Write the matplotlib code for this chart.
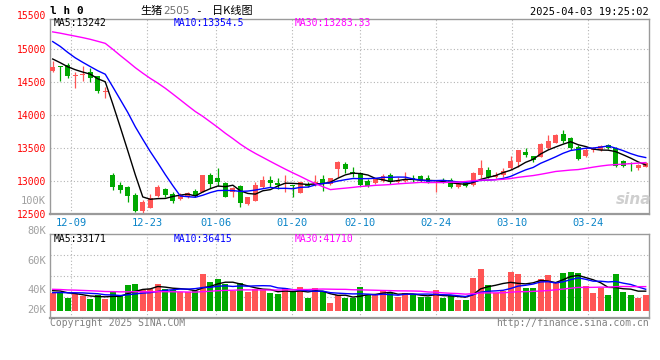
# -*- coding: utf-8 -*-
"""
生猪2505 日K线图 (仿新浪财经样式)
"""
import numpy as np
import pandas as pd
import matplotlib
matplotlib.use('Agg')
import matplotlib.pyplot as plt
import matplotlib.transforms as mtransforms

plt.rcParams['font.family'] = ['DejaVu Sans Mono']

# 图幅之前 29 个交易日 (按均线起点推估, 只用于算均线)
prev_close = [15300, 15280, 15260, 15300, 15320, 15280, 15300, 15600, 15700, 15500,
              15350, 15200, 15100, 15050, 15150, 15300, 15450, 15500, 15400, 15300,
              15450, 15500, 15420, 15300, 15210, 15000, 14900, 14820, 14800]
prev_vol = [42000, 45000, 38000, 40000, 36000, 44000, 41000, 39000, 37000, 43000,
            40000, 38000, 42000, 36000, 41000, 39000, 38000, 40000, 37000, 40000,
            28000, 26000, 30000, 27000, 27500, 33000, 38000, 36000, 34900]

# 12-04 ~ 04-03 日线
opens = [14670, 14740, 14757, 14585, 14610, 14647, 14590, 14350,
         13090, 12940, 12905, 12788, 12550, 12595, 12775, 12880, 12803, 12727, 12753, 12848,
         12838, 13090, 13040, 12965, 12830, 12924, 12647, 12700, 12914, 13015,
         12975, 12950, 12940, 12823, 12955, 12940, 13030, 12950, 13177, 13258,
         13130, 13125, 13000, 12965, 13005, 13090, 12980, 13005, 13040, 13076,
         13040, 12965, 13005, 13015, 12914, 12965, 12940, 13090, 13167, 13055,
         13090, 13200, 13283, 13444, 13379, 13368, 13495, 13580, 13707, 13646,
         13510, 13379, 13470, 13470, 13545, 13495, 13303, 13278, 13192, 13217]
closes = [14720, 14720, 14595, 14595, 14620, 14565, 14370, 14368,
          12915, 12865, 12777, 12550, 12686, 12737, 12914, 12790, 12700, 12790, 12813, 12777,
          13090, 12950, 12990, 12762, 12889, 12662, 12753, 12940, 13015, 12975,
          12940, 12965, 12924, 12980, 12924, 12990, 12975, 13040, 13283, 13177,
          13120, 12940, 12930, 13025, 13076, 12990, 13015, 13025, 13015, 13015,
          12980, 12990, 12965, 12914, 12950, 12930, 13125, 13200, 13065, 13090,
          13155, 13303, 13470, 13394, 13318, 13560, 13606, 13697, 13606, 13505,
          13333, 13470, 13505, 13530, 13495, 13227, 13227, 13253, 13242, 13268]
highs = [14820, 14745, 14788, 14650, 14742, 14707, 14590, 14420,
         13117, 12990, 12925, 12813, 12712, 12798, 12940, 12890, 12830, 12813, 12830, 12874,
         13090, 13117, 13200, 12980, 12904, 12940, 12762, 12980, 13076, 13076,
         13040, 13090, 12945, 12990, 12990, 13090, 13090, 13040, 13303, 13292,
         13208, 13140, 13025, 13040, 13100, 13117, 13055, 13130, 13090, 13090,
         13090, 13015, 13040, 13040, 12965, 12990, 13140, 13318, 13208, 13130,
         13192, 13380, 13470, 13495, 13379, 13580, 13697, 13712, 13773, 13671,
         13545, 13495, 13520, 13545, 13560, 13510, 13318, 13292, 13258, 13292]
lows = [14650, 14520, 14565, 14405, 14520, 14505, 14340, 14260,
        12865, 12815, 12686, 12535, 12505, 12586, 12762, 12753, 12670, 12712, 12738, 12753,
        12830, 12890, 12924, 12753, 12753, 12610, 12636, 12690, 12890, 12904,
        12874, 12838, 12750, 12813, 12915, 12924, 12853, 12940, 13065, 13125,
        13065, 12924, 12915, 12950, 12990, 12950, 12965, 12990, 12980, 12980,
        12965, 12838, 12965, 12890, 12890, 12904, 12930, 13040, 13040, 13040,
        13055, 13177, 13217, 13368, 13293, 13359, 13485, 13570, 13570, 13470,
        13318, 13359, 13444, 13455, 13480, 13208, 13217, 13155, 13167, 13208]
volumes = [30600, 30600, 22700, 29500, 24900, 19800, 26600, 19800, 33400, 24900,
           43600, 45300, 36300, 38000, 45300, 38000, 36300, 32300, 32300, 33400,
           62300, 48700, 53800, 46500, 33400, 47000, 32300, 38000, 35100, 30000,
           28300, 38500, 33400, 40200, 21500, 38500, 33400, 13000, 26600, 22700,
           22700, 40800, 26600, 28300, 33400, 30000, 24400, 30000, 26600, 23800,
           23800, 35100, 21500, 24900, 18100, 18100, 56100, 70800, 43600, 30000,
           33400, 65700, 62300, 39100, 39100, 53800, 60600, 48700, 64000, 65700,
           64000, 41900, 30000, 38500, 26600, 62300, 31700, 26600, 21500, 26600]

date_labels = ['12-09', '12-23', '01-06', '01-20', '02-10', '02-24', '03-10', '03-24']
date_index = [3, 13, 22, 32, 41, 51, 61, 71]

price_ticks = [12500, 13000, 13500, 14000, 14500, 15000]
price_top_label = 15500
vol_labels = ['100K', '80K', '60K', '40K', '20K']

ma_price_text = ['MA5:13242', 'MA10:13354.5', 'MA30:13283.33']
ma_vol_text = ['MA5:33171', 'MA10:36415', 'MA30:41710']

RED = '#ff5555'
GREEN = '#00a800'
MA_COLORS = ['black', '#0000ff', '#ff00ff']
GRID = dict(color='#b4b4b4', linestyle=(0, (1, 2)), linewidth=0.8)
FRAME = '#9a9a9a'
W, H = 660, 360


def fx(p):
    return p / W


def fy(p):
    return 1 - p / H


def ma(prev, vals, n):
    s = pd.Series(list(prev) + list(vals), dtype=float)
    return s.rolling(n).mean().iloc[len(prev):].to_numpy()


o = np.array(opens, float)
c = np.array(closes, float)
hi = np.array(highs, float)
lo = np.array(lows, float)
vol = np.array(volumes, float)
x = np.arange(len(c))
up = c >= o
colors = np.where(up, RED, GREEN)

# 网格线位置: 新浪的日期线比K线间距略宽
grid_pos = [2.5 + (i - 3) * (7.6 / 7.506) for i in date_index]

fig = plt.figure(figsize=(6.6, 3.6), dpi=100)
fig.patch.set_facecolor('white')

ax = fig.add_axes([fx(50), fy(214), fx(599), 195 / H])
axv = fig.add_axes([fx(50), fy(318), fx(599), 84 / H])

for a in (ax, axv):
    a.set_xlim(-0.36, len(c) - 0.56)
    for sp in a.spines.values():
        sp.set_color(FRAME)
        sp.set_linewidth(1.0)
    a.spines['bottom'].set_linewidth(1.6)
    a.set_xticks(grid_pos)
    a.grid(True, **GRID)
    a.set_axisbelow(True)
    a.tick_params(length=0)

# ---- K线 ----
ax.set_ylim(12500, 15454)
ax.vlines(x, lo, hi, colors=colors, linewidth=0.9, zorder=2)
body = np.maximum(np.abs(c - o), 15)
ax.bar(x, body, bottom=np.minimum(o, c), width=0.66, color=colors, linewidth=0, zorder=3)

for n, col in zip([5, 10, 30], MA_COLORS):
    ax.plot(x, ma(prev_close, c, n), color=col, linewidth=1.0, zorder=4)

ax.set_yticks(price_ticks)
ax.set_yticklabels([str(t) for t in price_ticks], color='red', fontsize=7)
ax.tick_params(axis='y', pad=3)
ax.set_xticklabels(date_labels, color='#0a84c8', fontsize=7.5)
ax.tick_params(axis='x', pad=3)
blend = mtransforms.blended_transform_factory(ax.transAxes, ax.transData)
ax.text(-4 / 599, price_top_label, str(price_top_label), transform=blend, ha='right',
        va='center', color='red', fontsize=7, clip_on=False)

# ---- 成交量 ----
vlo, vhi = -11900, 130900
axv.set_ylim(vlo, vhi)
axv.bar(x, vol, width=0.8, color=colors, linewidth=0, zorder=3)
for n, col in zip([5, 10, 30], MA_COLORS):
    axv.plot(x, ma(prev_vol, vol, n), color=col, linewidth=1.0, zorder=4)
axv.set_yticks([vlo + f * (vhi - vlo) for f in (0.25, 0.5, 0.75)])
axv.set_yticklabels([])
axv.set_xticklabels([])
for lab, py in zip(vol_labels, [201, 231, 261, 290, 310]):
    axv.text(-4 / 599, (318 - py) / 84, lab, transform=axv.transAxes, ha='right',
             va='center', color='#a0a0a0', fontsize=7.5, clip_on=False)

# ---- 文字 ----
fig.text(fx(50), fy(11.5), 'l h 0', fontsize=8, fontweight='bold', va='center')
fig.text(fx(140), fy(11), '生猪', family=['Noto Sans CJK SC', 'DejaVu Sans'],
         fontsize=8, va='center')
fig.text(fx(163), fy(11.5), '2505', family='DejaVu Sans', color='#707070',
         fontsize=7.5, va='center')
fig.text(fx(195), fy(11), '-', fontsize=8, va='center')
fig.text(fx(212), fy(11), '日K线图', family=['Noto Sans CJK SC', 'DejaVu Sans'],
         fontsize=8, va='center')
fig.text(fx(649), fy(12), '2025-04-03 19:25:02', fontsize=7.5, ha='right', va='center')

for txt, col, px in zip(ma_price_text, MA_COLORS, [54, 174, 295]):
    fig.text(fx(px), fy(23.5), txt, color=col, fontsize=7, va='center')
for txt, col, px in zip(ma_vol_text, MA_COLORS, [54, 174, 295]):
    fig.text(fx(px), fy(238.5), txt, color=col, fontsize=7, va='center')

fig.text(fx(50), fy(323), 'Copyright 2025 SINA.COM', color='#808080', fontsize=7, va='center')
fig.text(fx(649), fy(323), 'http://finance.sina.com.cn', color='#808080', fontsize=7,
         ha='right', va='center')
fig.text(fx(634), fy(200), 'sina', family='DejaVu Sans', color='#cfcfcf', fontsize=11,
         fontweight='bold', style='italic', ha='center', va='center')

fig.savefig('out.png', dpi=100, facecolor='white')
